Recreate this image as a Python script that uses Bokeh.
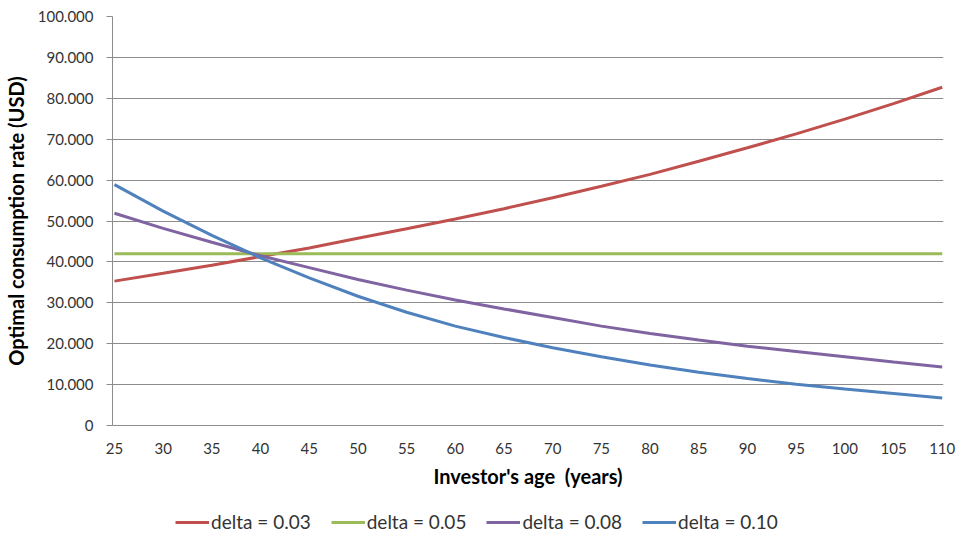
from bokeh.plotting import figure
from bokeh.layouts import column
from bokeh.models import (Range1d, FixedTicker, CustomJSTickFormatter, Legend,
                          LegendItem)
from bokeh.embed import file_html
from bokeh.resources import INLINE

# ---- data ----
ages = [25, 30, 35, 40, 45, 50, 55, 60, 65, 70, 75, 80, 85, 90, 95, 100, 105, 110]
delta_003 = [35300, 37200, 39200, 41300, 43400, 45800, 48100, 50500, 53000, 55700,
             58500, 61400, 64600, 67900, 71300, 74900, 78700, 82700]
delta_005 = [42000] * 18
delta_008 = [51900, 48200, 44800, 41500, 38600, 35700, 33100, 30700, 28500, 26400,
             24300, 22500, 20900, 19400, 18100, 16800, 15500, 14300]
delta_010 = [58900, 52400, 46500, 41000, 36100, 31600, 27700, 24300, 21500, 19000,
             16800, 14800, 13000, 11500, 10100, 8900, 7800, 6700]
series_labels = ["delta = 0.03", "delta = 0.05", "delta = 0.08", "delta = 0.10"]
series_colors = ["#C0504D", "#9BBB59", "#8064A2", "#4F81BD"]
x_ticks = list(range(25, 111, 5))
y_ticks = list(range(0, 100001, 10000))

FONT = "Lato"
TXT = "#333333"
GRID = "#8c8c8c"

p = figure(width=956, height=500, output_backend="svg", toolbar_location=None,
           x_range=Range1d(24.8, 110.13), y_range=Range1d(0, 100000),
           min_border_left=110, min_border_right=13, min_border_top=16,
           min_border_bottom=75, background_fill_color="white",
           border_fill_color="white")
p.outline_line_color = None

for ys, c in zip([delta_003, delta_005, delta_008, delta_010], series_colors):
    p.line(ages, ys, line_color=c, line_width=3)

# axes
p.xaxis.ticker = FixedTicker(ticks=x_ticks)
p.yaxis.ticker = FixedTicker(ticks=y_ticks)
p.yaxis.formatter = CustomJSTickFormatter(code="""
return Math.round(tick).toString().replace(/\\B(?=(\\d{3})+(?!\\d))/g, ".");
""")
for ax in (p.xaxis, p.yaxis):
    ax.axis_line_color = GRID
    ax.major_tick_line_color = GRID
    ax.minor_tick_line_color = None
    ax.major_label_text_font = FONT
    ax.major_label_text_font_size = "15px"
    ax.major_label_text_color = TXT
    ax.axis_label_text_font = FONT
    ax.axis_label_text_font_size = "20px"
    ax.axis_label_text_font_style = "bold"
    ax.axis_label_text_color = "#000000"

p.xaxis.major_tick_out = 0
p.xaxis.major_tick_in = 0
p.xaxis.major_label_standoff = 17
p.xaxis.axis_label = "Investor's age\u00a0 (years)"
p.xaxis.axis_label_standoff = 7

p.yaxis.major_tick_out = 6
p.yaxis.major_tick_in = 0
p.yaxis.major_label_standoff = 13
p.yaxis.axis_label = "Optimal consumption rate (USD)"
p.yaxis.axis_label_standoff = 7

p.xgrid.grid_line_color = None
p.ygrid.grid_line_color = GRID
p.ygrid.grid_line_width = 1

# ---- legend strip below the chart ----
lg = figure(width=956, height=38, output_backend="svg", toolbar_location=None,
            x_range=Range1d(0, 1), y_range=Range1d(0, 1),
            x_axis_type=None, y_axis_type=None,
            min_border_left=0, min_border_right=0, min_border_top=0,
            min_border_bottom=0, background_fill_color="white",
            border_fill_color="white")
lg.outline_line_color = None
lg.xgrid.visible = False
lg.ygrid.visible = False
# legend proxies: a single point outside the strip's ranges draws nothing
proxies = [lg.line([-1], [-1], line_color=c, line_width=3) for c in series_colors]

legend = Legend(items=[LegendItem(label=l, renderers=[r])
                       for l, r in zip(series_labels, proxies)],
                orientation="horizontal", location=(63, 5))
legend.border_line_color = None
legend.background_fill_alpha = 0
legend.label_text_font = FONT
legend.label_text_font_size = "19px"
legend.label_text_color = TXT
legend.glyph_width = 34
legend.glyph_height = 20
legend.label_standoff = 2
legend.spacing = 20
legend.padding = 0
legend.margin = 0
lg.add_layout(legend)

layout = column(p, lg, spacing=0)
open("out.html", "w").write(file_html(layout, INLINE))
